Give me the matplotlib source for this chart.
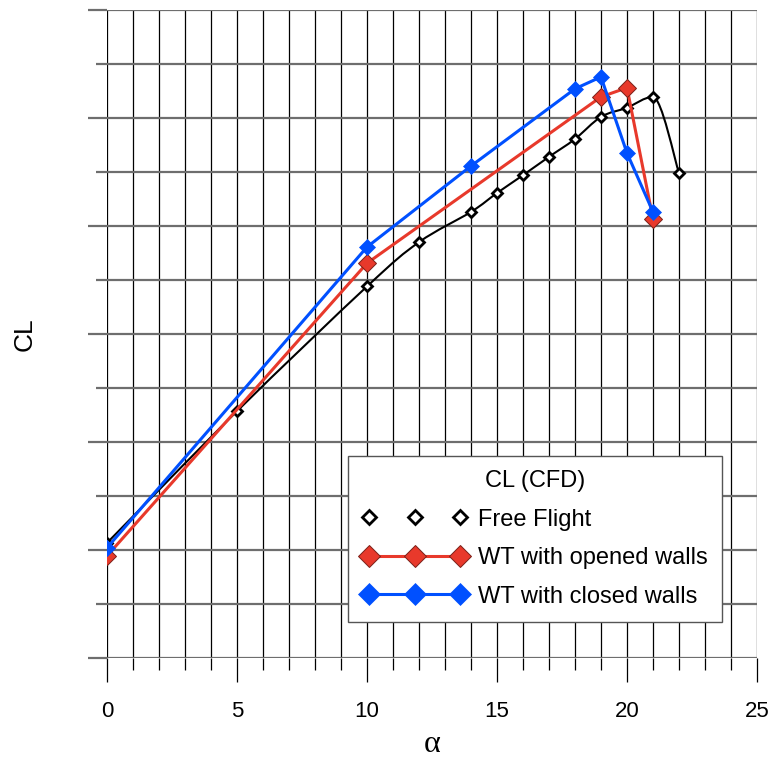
import numpy as np
import matplotlib
matplotlib.use("Agg")
import matplotlib.pyplot as plt
from matplotlib.path import Path
from matplotlib.patches import PathPatch
from matplotlib.lines import Line2D

plt.rcParams['font.family'] = ['Liberation Sans', 'DejaVu Sans']

# Free flight CFD
ff_alpha = [0, 5, 10, 12, 14, 15, 16, 17, 18, 19, 20, 21, 22]
ff_cl = [2.13, 4.57, 6.88, 7.70, 8.26, 8.61, 8.94, 9.28, 9.61, 10.02, 10.19, 10.39, 8.98]

# wind tunnel, opened walls
ow_alpha = [0, 10, 19, 20, 21]
ow_cl = [1.89, 7.31, 10.39, 10.56, 8.13]

# wind tunnel, closed walls
cw_alpha = [0, 10, 14, 18, 19, 20, 21]
cw_cl = [2.04, 7.61, 9.11, 10.54, 10.76, 9.35, 8.26]


def smooth_path(xs, ys):
    # bezier through the points, like a spreadsheet "smoothed line";
    # flat tangent at local peaks so the curve does not overshoot
    pts = np.column_stack([xs, ys]).astype(float)
    n = len(pts)
    tang = []
    for i in range(n):
        p0 = pts[max(i - 1, 0)]
        p2 = pts[min(i + 1, n - 1)]
        t = (p2 - p0) / 6
        if 0 < i < n - 1:
            if (pts[i, 1] - p0[1]) * (p2[1] - pts[i, 1]) < 0:
                t[1] = 0
        tang.append(t)
    verts = [pts[0]]
    codes = [Path.MOVETO]
    for i in range(n - 1):
        verts += [pts[i] + tang[i], pts[i + 1] - tang[i + 1], pts[i + 1]]
        codes += [Path.CURVE4] * 3
    return Path(verts, codes)


red = '#e8392b'
blue = '#0050ff'

fig = plt.figure(figsize=(7.73, 7.71), dpi=100)
ax = fig.add_axes([0.1384, 0.1466, 0.8409, 0.8405])

ax.set_xlim(0, 25)
ax.set_ylim(0, 12)
for s in ax.spines.values():
    s.set_visible(False)

ax.set_xticks(np.arange(0, 26, 5))
ax.set_xticks(np.arange(0, 26, 1), minor=True)
ax.set_yticks(np.arange(0, 13, 2))
ax.set_yticks(np.arange(0, 13, 1), minor=True)
ax.set_yticklabels([])
ax.grid(axis='x', which='both', color='black', lw=0.9)
ax.grid(axis='y', which='both', color='#6e6e6e', lw=1.6)
ax.tick_params(axis='x', which='major', length=17, width=0.9, color='black',
               labelsize=16, pad=14)
ax.tick_params(axis='x', which='minor', length=8.5, width=0.9, color='black')
ax.tick_params(axis='y', which='major', length=13.5, width=1.6, color='#6e6e6e')
ax.tick_params(axis='y', which='minor', length=8, width=1.6, color='#6e6e6e')
ax.set_axisbelow(True)

ax.add_patch(PathPatch(smooth_path(ff_alpha, ff_cl), fc='none', ec='black',
                       lw=1.5, zorder=3))
ax.plot(ff_alpha, ff_cl, ls='none', marker='D', ms=5, mfc='white', mec='black',
        mew=2, zorder=4)
ax.plot(ow_alpha, ow_cl, color=red, lw=2.2, marker='D', ms=9, mfc=red,
        mec='#7a2018', mew=0.7, zorder=5)
ax.plot(cw_alpha, cw_cl, color=blue, lw=2.2, marker='D', ms=8.5, mfc=blue,
        mec=blue, mew=0.5, zorder=6)

ax.set_xlabel('α', family=['Liberation Serif', 'DejaVu Serif'], fontsize=23,
              labelpad=6)
ax.set_ylabel('CL', fontsize=19, labelpad=34)

handles = [
    Line2D([], [], ls='none', marker='D', ms=7, mfc='white', mec='black', mew=2),
    Line2D([], [], color=red, lw=2.2, marker='D', ms=11, mfc=red,
           mec='#7a2018', mew=0.7),
    Line2D([], [], color=blue, lw=2.2, marker='D', ms=11, mfc=blue,
           mec=blue, mew=0.5),
]
labels = ['Free Flight', 'WT with opened walls', 'WT with closed walls']
leg = ax.legend(handles, labels, title='CL (CFD)', loc='upper left',
                bbox_to_anchor=(0.3708, 0.3117), numpoints=3, handlelength=4.45,
                handletextpad=0.45, fontsize=17, title_fontsize=17, fancybox=False,
                framealpha=1, edgecolor='#555555', borderpad=0.6,
                labelspacing=0.7, borderaxespad=0)
leg.get_frame().set_linewidth(1.0)
leg.set_zorder(10)

fig.savefig('out.png', dpi=100)
